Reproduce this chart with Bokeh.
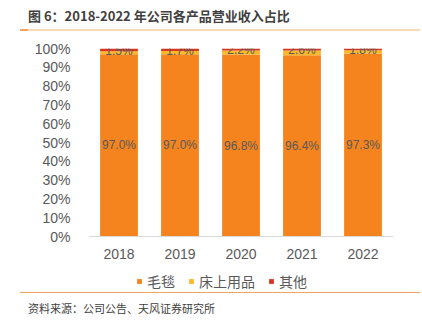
from bokeh.plotting import figure
from bokeh.layouts import column
from bokeh.models import (ColumnDataSource, FactorRange, Legend, LegendItem, Div, Span, Range1d,
                          NumeralTickFormatter, FixedTicker, LabelSet)
from bokeh.core.properties import value
from bokeh.embed import file_html
from bokeh.resources import INLINE

years = ["2018", "2019", "2020", "2021", "2022"]
blanket = [97.0, 97.0, 96.8, 96.4, 97.3]
bedding = [1.5, 1.7, 2.2, 2.6, 1.8]
other = [1.5, 1.3, 1.0, 1.0, 0.9]
series_names = ["毛毯", "床上用品", "其他"]
colors = ["#F5841F", "#FBB829", "#D9341E"]
title_text = "图 6：2018-2022 年公司各产品营业收入占比"
source_text = "资料来源：公司公告、天风证券研究所"

CJK = "Noto Sans CJK SC"
NUM = "Liberation Sans"
W = 422
FRAME_H = 244
PX_PER_UNIT = 188.0

src = ColumnDataSource(dict(
    year=years,
    blanket=[v / 100 for v in blanket],
    bedding=[v / 100 for v in bedding],
    other=[v / 100 for v in other],
    blanket_mid=[v / 200 for v in blanket],
    bedding_top=[(a + b) / 100 for a, b in zip(blanket, bedding)],
    blanket_lbl=["%.1f%%" % v for v in blanket],
    bedding_lbl=["%.1f%%" % v for v in bedding],
))

p = figure(x_range=FactorRange(*years, range_padding=0),
           y_range=Range1d(1 - FRAME_H / PX_PER_UNIT, 1),
           frame_width=305, frame_height=FRAME_H,
           output_backend="svg", toolbar_location=None,
           min_border_left=88, min_border_right=29, min_border_top=17, min_border_bottom=0)
p.outline_line_color = None
p.grid.grid_line_color = None

rs = p.vbar_stack(["blanket", "bedding", "other"], x="year", width=0.62, color=colors,
                  source=src, line_color=None)

p.add_layout(Span(location=0, dimension="width", line_color="#D9D9D9", line_width=1))

p.yaxis.ticker = FixedTicker(ticks=[i / 10 for i in range(11)])
p.yaxis.formatter = NumeralTickFormatter(format="0%")
p.yaxis.axis_line_color = None
p.yaxis.major_tick_line_color = None
p.yaxis.minor_tick_line_color = None
p.yaxis.major_label_text_font = NUM
p.yaxis.major_label_text_font_size = "14px"
p.yaxis.major_label_text_color = "#595959"
p.yaxis.major_label_standoff = 12

p.xaxis.fixed_location = -6.5 / PX_PER_UNIT
p.xaxis.axis_line_color = None
p.xaxis.major_tick_line_color = None
p.xaxis.minor_tick_line_color = None
p.xaxis.major_label_text_font = NUM
p.xaxis.major_label_text_font_size = "14px"
p.xaxis.major_label_text_line_height = 1.0
p.xaxis.major_label_text_color = "#595959"
p.xaxis.major_label_standoff = 0

p.add_layout(LabelSet(x="year", y="blanket_mid", text="blanket_lbl", source=src,
                      text_align="center", text_baseline="middle",
                      text_font=value(NUM), text_font_size="12px", text_color="#595959"))
p.add_layout(LabelSet(x="year", y="bedding_top", text="bedding_lbl", source=src,
                      text_align="center", text_baseline="middle",
                      text_font=value(NUM), text_font_size="12px", text_color="#595959"))

legend = Legend(items=[LegendItem(label=n, renderers=[r]) for n, r in zip(series_names, rs)],
                orientation="horizontal", location=(48, 1),
                border_line_color=None, background_fill_alpha=0,
                label_text_font=CJK, label_text_font_size="14px", label_text_color="#595959",
                label_text_line_height=1.0,
                glyph_width=6, glyph_height=6, spacing=13, label_standoff=5, padding=0,
                margin=0)
p.add_layout(legend, "center")

top = Div(width=W, height=31, margin=0, text=(
    '<div style="position:relative;width:%dpx;height:31px;">'
    '<div style="position:absolute;left:28px;top:6px;font-family:\'%s\';font-size:13px;'
    'font-weight:bold;color:#404040;line-height:20px;white-space:nowrap;">%s</div>'
    '<div style="position:absolute;left:20px;top:29px;width:400px;height:2px;background:#FDD9B5;"></div>'
    '<div style="position:absolute;left:20px;top:29px;width:8px;height:2px;background:#F7A462;"></div>'
    '</div>') % (W, CJK, title_text))

bot = Div(width=W, height=27, margin=0, text=(
    '<div style="position:relative;width:%dpx;height:27px;">'
    '<div style="position:absolute;left:20px;top:0px;width:400px;height:1px;background:#F4A460;"></div>'
    '<div style="position:absolute;left:28px;top:7px;font-family:\'%s\';font-size:11px;'
    'color:#404040;line-height:18px;white-space:nowrap;">%s</div>'
    '</div>') % (W, CJK, source_text))

layout = column(top, p, bot, spacing=0)
open("out.html", "w").write(file_html(layout, INLINE))
